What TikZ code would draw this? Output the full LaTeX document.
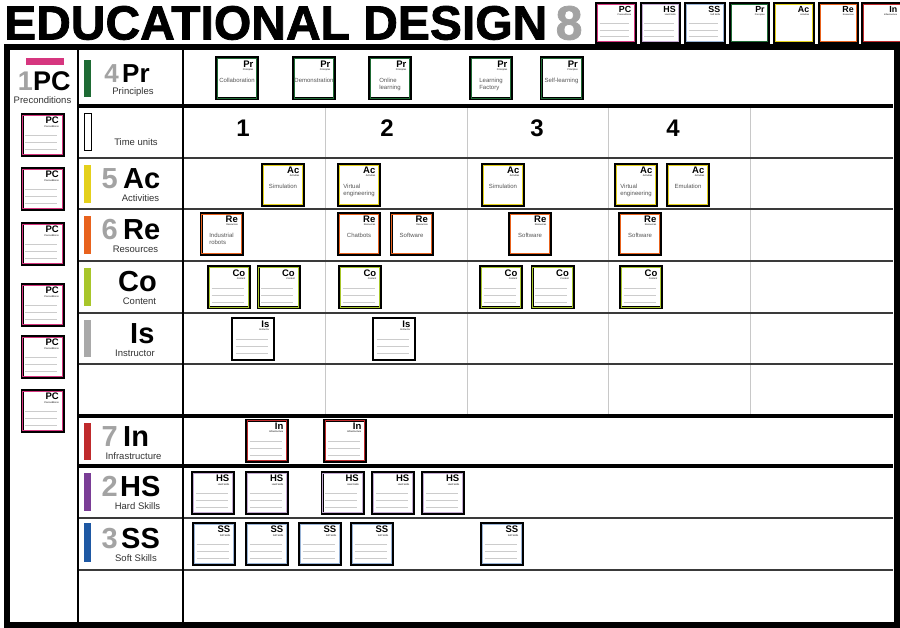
\documentclass[tikz,border=0pt]{standalone}
\usepackage{fontspec}
\setmainfont{Liberation Sans}
\newfontfamily\titlefont[FakeBold=1.6]{Liberation Sans Bold}
\usepackage{tikz}
\usetikzlibrary{positioning,calc}
\usepackage{xcolor}
\definecolor{pcC}{HTML}{D6367F}
\definecolor{prC}{HTML}{1E6B34}
\definecolor{acC}{HTML}{E4D01B}
\definecolor{reC}{HTML}{E8621D}
\definecolor{coC}{HTML}{A8C62A}
\definecolor{isC}{HTML}{A9A9A9}
\definecolor{inC}{HTML}{BF2A2C}
\definecolor{hsC}{HTML}{7A3D96}
\definecolor{ssC}{HTML}{1E58A3}
\definecolor{numC}{HTML}{A3A3A3}
\definecolor{ruleC}{HTML}{3A3A3A}
\definecolor{gridC}{HTML}{C8C8C8}
\definecolor{txt}{HTML}{333333}
\definecolor{txt2}{HTML}{555555}

\begin{document}
\begin{tikzpicture}[
  x=1pt, y=-1pt,
  frame/.style={draw=black, line width=6pt},
  rowrule/.style={draw=ruleC, line width=1.8pt},
  thickrule/.style={draw=black, line width=3.5pt},
  colrule/.style={draw=gridC, line width=1pt},
  labnum/.style={font=\bfseries\fontsize{29}{29}\selectfont, text=numC, inner sep=0pt, anchor=base east},
  labcode/.style={font=\bfseries\fontsize{29}{29}\selectfont, inner sep=0pt, anchor=base west},
  labsub/.style={font=\fontsize{9.5}{10}\selectfont, text=txt, inner sep=0pt},
  tnum/.style={font=\bfseries\fontsize{24}{24}\selectfont, inner sep=0pt},
  cardbox/.style={draw=black, line width=3pt, fill=white, minimum size=41pt, inner sep=0pt},
  cardcode/.style={font=\bfseries\fontsize{9.5}{9.5}\selectfont, inner sep=0pt, anchor=north east},
  cardsub/.style={font=\fontsize{2.4}{2.6}\selectfont, inner sep=0pt, anchor=north east},
  cardtext/.style={font=\fontsize{6}{7.4}\selectfont, text=txt2, align=left, inner sep=0pt, anchor=north},
  cardline/.style={draw=gray!40, line width=0.5pt},
  pics/card/.style n args={4}{code={
    \node[cardbox] (-box) at (0,0) {};
    \draw[#3, line width=1.1pt] ([shift={(2.2pt,2.2pt)}]-box.south west) rectangle ([shift={(-2.2pt,-2.2pt)}]-box.north east);
    \node[cardcode] (-code) at ([shift={(-5.5pt,-4pt)}]-box.north east) {#1};
    \node[cardsub] (-sub) at ([yshift=-1pt]-code.south east) {#2};
    \node[cardtext] (-text) at ([yshift=1pt]-box.center) {#4};
  }},
  pics/blank/.style n args={3}{code={
    \node[cardbox] (-box) at (0,0) {};
    \draw[#3, line width=1.1pt] ([shift={(2.2pt,2.2pt)}]-box.south west) rectangle ([shift={(-2.2pt,-2.2pt)}]-box.north east);
    \node[cardcode] (-code) at ([shift={(-5.5pt,-4pt)}]-box.north east) {#1};
    \node[cardsub] (-sub) at ([yshift=-1pt]-code.south east) {#2};
    \foreach \dy in {0.5,7.5,14.5}
      \draw[cardline] ([shift={(4.5pt,-\dy pt)}]-box.west) -- ++(32pt,0pt);
  }},
]
\useasboundingbox (0,0) rectangle (900,628);
\fill[white] (0,0) rectangle (900,628);

% title and legend cards
\node[anchor=base west, inner sep=0pt, font=\titlefont\fontsize{48}{48}\selectfont] (title) at (4,39.5) {EDUCATIONAL DESIGN};
\node[anchor=base west, inner sep=0pt, font=\titlefont\fontsize{48}{48}\selectfont, text=numC] (eight) at ([xshift=8pt]title.base east) {8};

\pic[scale=0.93, transform shape] (hpc) at (616,23) {blank={PC}{Preconditions}{pcC}};
\pic[scale=0.93, transform shape] (hhs) at (660.5,23) {blank={HS}{Hard Skills}{hsC!45}};
\pic[scale=0.93, transform shape] (hss) at (705,23) {blank={SS}{Soft Skills}{ssC!45}};
\pic[scale=0.93, transform shape] (hpr) at (749.5,23) {card={Pr}{Principles}{prC}{}};
\pic[scale=0.93, transform shape] (hac) at (794,23) {card={Ac}{Activities}{acC}{}};
\pic[scale=0.93, transform shape] (hre) at (838.5,23) {card={Re}{Resources}{reC}{}};
\pic[scale=0.93, transform shape] (hin) at (882,23) {card={In}{Infrastructure}{inC}{}};

% board grid
\foreach \x in {325,467,608,750}
  \draw[colrule] (\x,106) -- (\x,416);
\foreach \y in {158,209,261,313,364,518,570}
  \draw[rowrule] (78,\y) -- (893,\y);
\foreach \y in {106,416,466}
  \draw[thickrule] (78,\y) -- (893,\y);
\draw[black, line width=2pt] (78,50) -- (78,622);
\draw[black, line width=2pt] (183,50) -- (183,622);
\draw[frame] (6.5,47.5) rectangle (896.5,625);

% preconditions column
\fill[pcC] (26,58) rectangle (64,65);
\node[labcode, font=\bfseries\fontsize{27}{27}\selectfont] (pc) at (33,91) {PC};
\node[labnum, font=\bfseries\fontsize{27}{27}\selectfont] (pcn) at (pc.base west) {1};
\node[labsub] (pcs) at (42.5,100.5) {Preconditions};
\foreach \y [count=\i] in {135,189,244,305,357,411}
  \pic (pc\i) at (42.5,\y) {blank={PC}{Preconditions}{pcC}};

% row labels
\fill[prC] (84,60) rectangle (91,97);
\node[labnum, font=\bfseries\fontsize{26}{26}\selectfont] (prn) at (119,83) {4};
\node[labcode, font=\bfseries\fontsize{26}{26}\selectfont] (pr) at (122,83) {Pr};
\node[labsub] (prs) at (133,92) {Principles};

\draw[black, line width=0.8pt, fill=white] (84,113) rectangle (91,150);
\node[labsub] (tus) at (136,142) {Time units};

\fill[acC] (84,165) rectangle (91,203);
\node[labnum] (acn) at (118,188.5) {5};
\node[labcode] (ac) at (123,188.5) {Ac};
\node[labsub] (acs) at (140.5,198.5) {Activities};

\fill[reC] (84,216) rectangle (91,254);
\node[labnum] (ren) at (118,239.5) {6};
\node[labcode] (re) at (123,239.5) {Re};
\node[labsub] (res) at (135.5,249.5) {Resources};

\fill[coC] (84,268) rectangle (91,306);
\node[labcode] (co) at (118,291.5) {Co};
\node[labsub] (cos) at (139.5,301.5) {Content};

\fill[isC] (84,320) rectangle (91,357);
\node[labcode] (is) at (130,343.5) {Is};
\node[labsub] (iss) at (135,353.5) {Instructor};

\fill[inC] (84,423) rectangle (91,460);
\node[labnum] (inn) at (118,446.5) {7};
\node[labcode] (in) at (123,446.5) {In};
\node[labsub] (ins) at (133.5,456.5) {Infrastructure};

\fill[hsC] (84,473) rectangle (91,511);
\node[labnum] (hsn) at (118,496.5) {2};
\node[labcode] (hs) at (120,496.5) {HS};
\node[labsub] (hss) at (137.5,506.5) {Hard Skills};

\fill[ssC] (84,523) rectangle (91,562);
\node[labnum] (ssn) at (118,548.5) {3};
\node[labcode] (ss) at (121,548.5) {SS};
\node[labsub] (sss) at (136,558.5) {Soft Skills};

% time units
\node[tnum] (t1) at (243,128) {1};
\node[tnum] (t2) at (387,128) {2};
\node[tnum] (t3) at (537,128) {3};
\node[tnum] (t4) at (673,128) {4};

% principles
\pic (pr1) at (237,78.5) {card={Pr}{Principles}{prC}{Collaboration}};
\pic (pr2) at (314,78.5) {card={Pr}{Principles}{prC}{Demonstration}};
\pic (pr3) at (390,78.5) {card={Pr}{Principles}{prC}{Online\\learning}};
\pic (pr4) at (491,78.5) {card={Pr}{Principles}{prC}{Learning\\Factory}};
\pic (pr5) at (561.5,78.5) {card={Pr}{Principles}{prC}{Self-learning}};

% activities
\pic (ac1) at (283,185) {card={Ac}{Activities}{acC}{Simulation}};
\pic (ac2) at (359,185) {card={Ac}{Activities}{acC}{Virtual\\engineering}};
\pic (ac3) at (503,185) {card={Ac}{Activities}{acC}{Simulation}};
\pic (ac4) at (636,185) {card={Ac}{Activities}{acC}{Virtual\\engineering}};
\pic (ac5) at (688,185) {card={Ac}{Activities}{acC}{Emulation}};

% resources
\pic (re1) at (221.5,234) {card={Re}{Resources}{reC}{Industrial\\robots}};
\pic (re2) at (359,234) {card={Re}{Resources}{reC}{Chatbots}};
\pic (re3) at (411.5,234) {card={Re}{Resources}{reC}{Software}};
\pic (re4) at (530,234) {card={Re}{Resources}{reC}{Software}};
\pic (re5) at (640,234) {card={Re}{Resources}{reC}{Software}};

% content
\foreach \x [count=\i] in {229,278.5,360,501,552.5,641}
  \pic (co\i) at (\x,287.5) {blank={Co}{Content}{coC}};

% instructor
\pic (is1) at (253,339) {blank={Is}{Instructor}{white}};
\pic (is2) at (394,339) {blank={Is}{Instructor}{white}};

% infrastructure
\pic (in1) at (267,440.5) {blank={In}{Infrastructure}{inC}};
\pic (in2) at (345,440.5) {blank={In}{Infrastructure}{inC}};

% hard skills
\foreach \x [count=\i] in {213,267,342.5,393,443}
  \pic (hs\i) at (\x,493) {blank={HS}{Hard Skills}{hsC!45}};

% soft skills
\foreach \x [count=\i] in {214,267,320,372,502}
  \pic (ss\i) at (\x,544) {blank={SS}{Soft Skills}{ssC!45}};

\end{tikzpicture}
\end{document}
